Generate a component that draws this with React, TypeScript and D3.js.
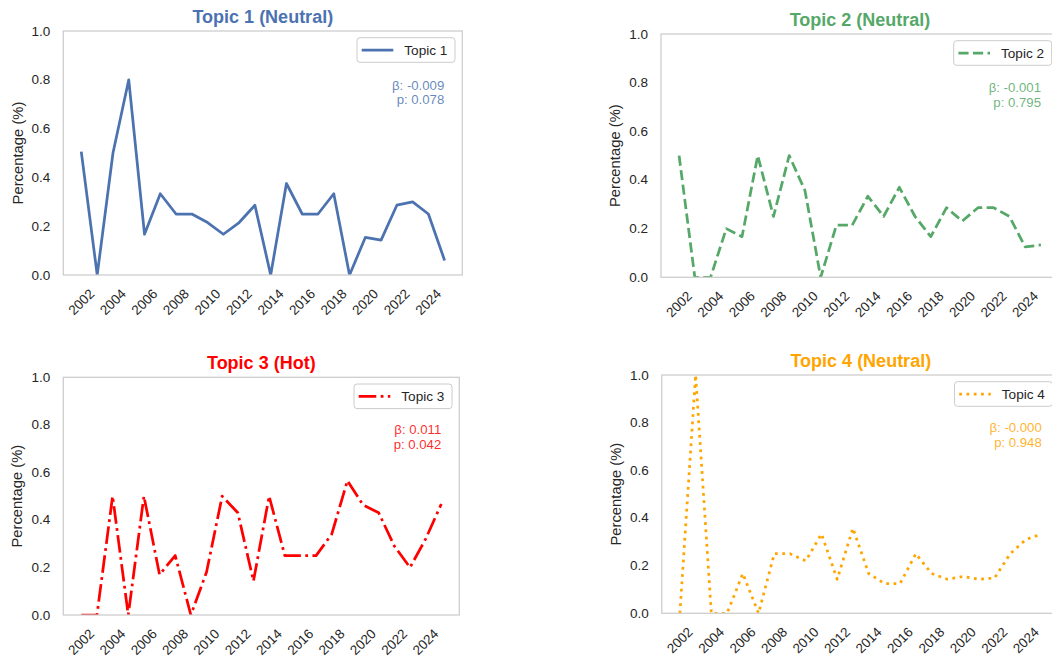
import { useEffect, useRef } from "react";
import * as d3 from "d3";

const YEARS = [
  2002, 2003, 2004, 2005, 2006, 2007, 2008, 2009, 2010, 2011, 2012, 2013,
  2014, 2015, 2016, 2017, 2018, 2019, 2020, 2021, 2022, 2023, 2024, 2025,
];

const TOPIC_1 = [
  0.5, 0, 0.5, 0.8, 0.167, 0.333, 0.25, 0.25, 0.215, 0.167, 0.215, 0.286,
  0, 0.375, 0.25, 0.25, 0.333, 0, 0.154, 0.143, 0.286, 0.3, 0.25, 0.065,
];
const TOPIC_2 = [
  0.5, 0, 0, 0.2, 0.167, 0.5, 0.25, 0.5, 0.357, 0, 0.214, 0.214,
  0.333, 0.25, 0.37, 0.25, 0.167, 0.286, 0.231, 0.286, 0.286, 0.25, 0.125, 0.133,
];
const TOPIC_3 = [
  0, 0, 0.5, 0, 0.5, 0.17, 0.25, 0, 0.18, 0.5, 0.43, 0.143,
  0.5, 0.25, 0.25, 0.25, 0.34, 0.565, 0.463, 0.43, 0.29, 0.2, 0.32, 0.467,
];
const TOPIC_4 = [
  0, 1.0, 0, 0, 0.167, 0, 0.25, 0.25, 0.22, 0.333, 0.143, 0.357,
  0.167, 0.125, 0.125, 0.25, 0.167, 0.143, 0.154, 0.143, 0.148, 0.25, 0.31, 0.333,
];

const SERIES = [TOPIC_1, TOPIC_2, TOPIC_3, TOPIC_4];
const TOPIC_NAMES = ["Topic 1", "Topic 2", "Topic 3", "Topic 4"];
const TOPIC_STATUS = ["Neutral", "Neutral", "Hot", "Neutral"];
const BETAS = ["-0.009", "-0.001", "0.011", "-0.000"];
const P_VALUES = ["0.078", "0.795", "0.042", "0.948"];

const X_TICKS = [2002, 2004, 2006, 2008, 2010, 2012, 2014, 2016, 2018, 2020, 2022, 2024];
const Y_TICKS = [0, 0.2, 0.4, 0.6, 0.8, 1.0];

const COLORS = ["#4c72b0", "#55a868", "#ff0000", "#ffa500"];
const LW = 2.75;
const DASHES = [
  null,
  `${3.7 * LW},${1.6 * LW}`,
  `${6.4 * LW},${1.6 * LW},${1 * LW},${1.6 * LW}`,
  `${1 * LW},${1.65 * LW}`,
];

// axes boxes (px)
const PANELS = [
  { left: 63.3, top: 31, width: 399, height: 244 },
  { left: 661, top: 34, width: 398, height: 243.3 },
  { left: 63.3, top: 377.3, width: 396, height: 237.7 },
  { left: 661.8, top: 375, width: 398, height: 238.3 },
];

const FONT = "'Liberation Sans', Arial, sans-serif";
const TEXT = "#262626";
const SPINE = "#cccccc";

const App = () => {
  const svgRef = useRef<SVGSVGElement | null>(null);

  const draw = () => {
    const svg = d3.select(svgRef.current);
    svg.selectAll("*").remove();

    PANELS.forEach((p, i) => {
      const values = SERIES[i];
      const color = COLORS[i];
      const right = p.left + p.width;
      const bottom = p.top + p.height;

      // matplotlib default 5% margins on x
      const span = YEARS[YEARS.length - 1] - YEARS[0];
      const x = d3
        .scaleLinear()
        .domain([YEARS[0] - span * 0.05, YEARS[YEARS.length - 1] + span * 0.05])
        .range([p.left, right]);
      const y = d3.scaleLinear().domain([0, 1]).range([bottom, p.top]);

      const g = svg.append("g").attr("font-family", FONT);

      g.append("rect")
        .attr("x", p.left)
        .attr("y", p.top)
        .attr("width", p.width)
        .attr("height", p.height)
        .attr("fill", "white");

      const clipId = `clip-${i}`;
      g.append("clipPath")
        .attr("id", clipId)
        .append("rect")
        .attr("x", p.left)
        .attr("y", p.top)
        .attr("width", p.width)
        .attr("height", p.height);

      const line = d3
        .line<number>()
        .x((_, k) => x(YEARS[k]))
        .y((d) => y(d));

      const path = g
        .append("path")
        .datum(values)
        .attr("clip-path", `url(#${clipId})`)
        .attr("d", line)
        .attr("fill", "none")
        .attr("stroke", color)
        .attr("stroke-width", LW)
        .attr("stroke-linejoin", "round");
      if (DASHES[i]) path.attr("stroke-dasharray", DASHES[i]);
      else path.attr("stroke-linecap", "square");

      // spines
      g.append("rect")
        .attr("x", p.left)
        .attr("y", p.top)
        .attr("width", p.width)
        .attr("height", p.height)
        .attr("fill", "none")
        .attr("stroke", SPINE)
        .attr("stroke-width", 1.25);

      // y ticks
      g.selectAll(".ytick")
        .data(Y_TICKS)
        .enter()
        .append("text")
        .attr("x", p.left - 13)
        .attr("y", (d) => y(d))
        .attr("text-anchor", "end")
        .attr("dominant-baseline", "central")
        .attr("font-size", 13.5)
        .attr("fill", TEXT)
        .text((d) => d3.format(".1f")(d));

      // x ticks, rotated 45
      const ty = bottom + 27;
      g.selectAll(".xtick")
        .data(X_TICKS)
        .enter()
        .append("text")
        .attr("x", (d) => x(d))
        .attr("y", ty)
        .attr("transform", (d) => `rotate(-45, ${x(d)}, ${ty})`)
        .attr("text-anchor", "middle")
        .attr("dominant-baseline", "central")
        .attr("font-size", 13.5)
        .attr("fill", TEXT)
        .text((d) => String(d));

      // y label
      const ly = p.top + p.height / 2;
      const lx = p.left - 45.8;
      g.append("text")
        .attr("x", lx)
        .attr("y", ly)
        .attr("transform", `rotate(-90, ${lx}, ${ly})`)
        .attr("text-anchor", "middle")
        .attr("dominant-baseline", "central")
        .attr("font-size", 14.8)
        .attr("fill", TEXT)
        .text("Percentage (%)");

      // title
      g.append("text")
        .attr("x", p.left + p.width / 2)
        .attr("y", p.top - 8)
        .attr("text-anchor", "middle")
        .attr("font-size", 18)
        .attr("font-weight", "bold")
        .attr("fill", color)
        .text(`${TOPIC_NAMES[i]} (${TOPIC_STATUS[i]})`);

      // legend
      const bw = 98;
      const bh = 24.6;
      const bx = right - 7.3 - bw;
      const by = p.top + 6.7;
      g.append("rect")
        .attr("x", bx)
        .attr("y", by)
        .attr("width", bw)
        .attr("height", bh)
        .attr("rx", 3)
        .attr("fill", "white")
        .attr("fill-opacity", 0.8)
        .attr("stroke", SPINE)
        .attr("stroke-width", 1);
      const handle = g
        .append("line")
        .attr("x1", bx + 4.7)
        .attr("x2", bx + 36.3)
        .attr("y1", by + bh / 2)
        .attr("y2", by + bh / 2)
        .attr("stroke", color)
        .attr("stroke-width", LW);
      if (DASHES[i]) handle.attr("stroke-dasharray", DASHES[i]);
      g.append("text")
        .attr("x", bx + 47.3)
        .attr("y", by + bh / 2)
        .attr("dominant-baseline", "central")
        .attr("font-size", 13.6)
        .attr("fill", TEXT)
        .text(TOPIC_NAMES[i]);

      // regression stats
      const sx = right - 18;
      const sy = p.top + 0.24 * p.height;
      g.append("text")
        .attr("x", sx)
        .attr("y", sy)
        .attr("text-anchor", "end")
        .attr("font-size", 13.2)
        .attr("fill", color)
        .attr("fill-opacity", 0.85)
        .text(`β: ${BETAS[i]}`);
      g.append("text")
        .attr("x", sx)
        .attr("y", sy + 14.4)
        .attr("text-anchor", "end")
        .attr("font-size", 13.2)
        .attr("fill", color)
        .attr("fill-opacity", 0.85)
        .text(`p: ${P_VALUES[i]}`);
    });
  };

  useEffect(() => {
    draw();
  }, []);

  return (
    <svg
      ref={svgRef}
      width={1052}
      height={658}
      style={{ position: "absolute", left: 0, top: 0, background: "white" }}
    />
  );
};

export default App;
